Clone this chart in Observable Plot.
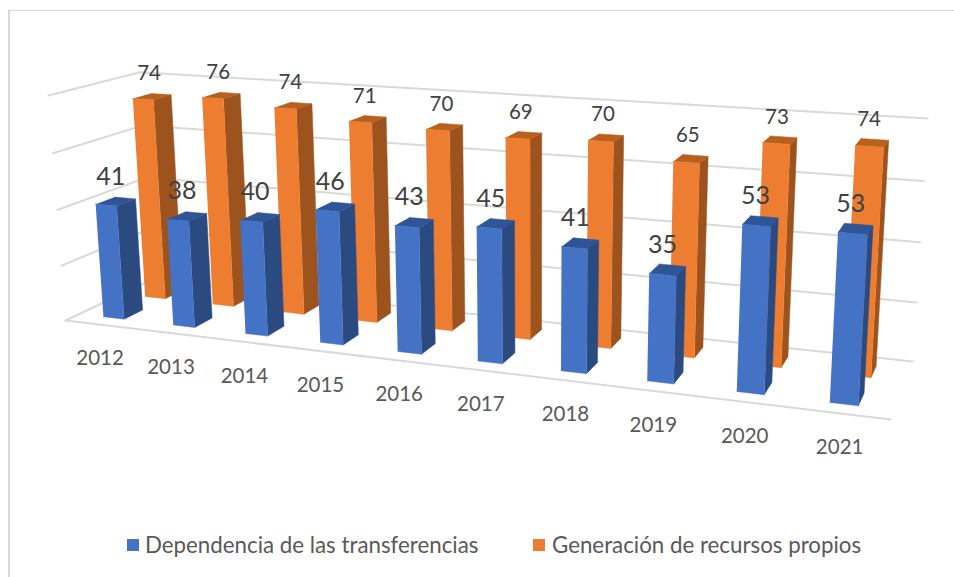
<!DOCTYPE html>
<html><head><meta charset="utf-8">
<script src="https://cdn.jsdelivr.net/npm/d3@7"></script>
<script src="https://cdn.jsdelivr.net/npm/@observablehq/plot@0.6"></script>
<style>
html,body{margin:0;padding:0;background:#fff;width:954px;height:577px;overflow:hidden}
#frame{position:absolute;left:8px;top:10px;right:0;bottom:0;border-left:2px solid #d9d9d9;border-top:1.5px solid #d9d9d9}
#chart{position:absolute;left:0;top:0}
#legend{position:absolute;left:0;top:525px;width:954px;height:52px;font:22.3px Lato,sans-serif;color:#595959}
#legend span{position:absolute;white-space:nowrap;top:6px}
#legend i{position:absolute;width:12px;height:12px;top:14px}
</style></head><body>
<div id="frame"></div><div id="chart"></div>
<div id="legend">
<i style="left:127px;background:#4472c4"></i><span style="left:145px">Dependencia de las transferencias</span>
<i style="left:533px;background:#ed7d31"></i><span style="left:552px">Generación de recursos propios</span>
</div>
<script>
const years = [2012,2013,2014,2015,2016,2017,2018,2019,2020,2021];
const dependencia = [41,38,40,46,43,45,41,35,53,53];
const generacion = [74,76,74,71,70,69,70,65,73,74];
const levels = [0,20,40,60,80];

// perspective of the 3-D box: corners and weights of the projective map
const O=[65,320],U=[890,419],D=[152,279],V=[48,95];
const wu=.833,wd=1.09,wv=.965,vMax=80,catLen=years.length+.02;
function proj(cat,val,dep){
  const u=cat/catLen,v=val/vMax,d=dep;
  const w=1+u*(wu-1)+v*(wv-1)+d*(wd-1);
  const f=k=>(O[k]+u*(wu*U[k]-O[k])+v*(wv*V[k]-O[k])+d*(wd*D[k]-O[k]))/w;
  return {x:f(0),y:f(1)};
}
const halfW=.15;
const rows=[
 {name:"gen",values:generacion,d0:.63,d1:.84,front:"#ed7d31",side:"#9c531e",top:"#b8611f"},
 {name:"dep",values:dependencia,d0:.15,d1:.36,front:"#4472c4",side:"#2b4a80",top:"#2f5597"}
];
const faces=[];
for(const r of rows){
  r.values.forEach((val,i)=>{
    const a=i+.5-halfW,b=i+.5+halfW;
    const add=(id,color,pts)=>pts.forEach(p=>faces.push({id:r.name+i+id,color,...proj(...p)}));
    add("s",r.side,[[b,0,r.d0],[b,0,r.d1],[b,val,r.d1],[b,val,r.d0]]);
    add("t",r.top,[[a,val,r.d0],[b,val,r.d0],[b,val,r.d1],[a,val,r.d1]]);
    add("f",r.front,[[a,0,r.d0],[b,0,r.d0],[b,val,r.d0],[a,val,r.d0]]);
  });
}
const grid=[];
levels.forEach(l=>{
  [[0,l,0],[0,l,1],[catLen,l,1]].forEach(p=>grid.push({id:"g"+l,...proj(...p)}));
});
[[0,0,0],[catLen,0,0]].forEach(p=>grid.push({id:"front",...proj(...p)}));

const lab=(vals,d)=>vals.map((v,i)=>({t:String(v),...proj(i+.5,v,d)}));
const yearLabels=years.map((y,i)=>({t:String(y),...proj(i+.5,0,0)}));

const plot=Plot.plot({
  width:954,height:525,margin:0,
  x:{domain:[0,954],range:[0,954],axis:null},
  y:{domain:[0,525],range:[0,525],axis:null},
  color:{type:"identity"},
  style:{background:"transparent"},
  marks:[
    Plot.line(grid,{x:"x",y:"y",z:"id",stroke:"#d9d9d9",strokeWidth:2}),
    Plot.line(faces,{x:"x",y:"y",z:"id",fill:"color",stroke:"color",strokeWidth:.5}),
    Plot.text(lab(generacion,.735),{x:"x",y:"y",text:"t",dx:-3,dy:-23,fontSize:20.5,fontFamily:"Lato",fill:"#404040"}),
    Plot.text(lab(dependencia,.255),{x:"x",y:"y",text:"t",dx:-5,dy:-25,fontSize:25,fontFamily:"Lato",fill:"#404040"}),
    Plot.text(yearLabels,{x:"x",y:"y",text:"t",dy:34,fontSize:20.5,fontFamily:"Lato",fill:"#595959"})
  ]
});
document.getElementById("chart").appendChild(plot);
</script>
</body></html>
